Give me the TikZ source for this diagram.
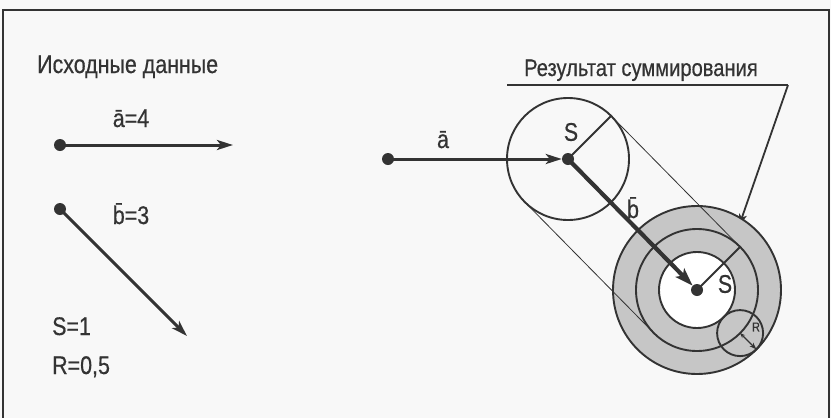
\documentclass[tikz,border=0pt]{standalone}
\usepackage{fontspec}
\setmainfont{Liberation Sans}[FakeStretch=0.84,FakeBold=0.5]
\usetikzlibrary{arrows.meta,calc}
\definecolor{ink}{HTML}{333333}
\definecolor{ringgray}{HTML}{C6C6C6}
\definecolor{bg}{HTML}{F8F8F8}
\tikzset{
  txt/.style={inner sep=0pt, text=ink, font=\fontsize{25.5}{28}\selectfont},
  vec/.style={draw=ink, line width=3pt, -{Stealth[length=16pt,width=10pt,inset=4pt]}},
  vecthick/.style={draw=ink, line width=4.2pt, -{Stealth[length=18pt,width=12pt,inset=4pt]}},
  dotc/.style={circle, fill=ink, inner sep=0pt, minimum size=12pt},
  thin/.style={draw=ink, line width=0.8pt},
  circ/.style={draw=ink, line width=1.9pt},
}
\begin{document}
\begin{tikzpicture}[x=1pt,y=-1pt]
\useasboundingbox (0,0) rectangle (831,418);
\fill[bg] (0,0) rectangle (831,418);
% frame
\draw[ink, line width=2pt] (3,418) -- (3,10) -- (829,10) -- (829,418);

% ---- left part
\node[txt, anchor=base west] (t1) at (37,73) {Исходные данные};
\node[dotc] (la0) at (60,145) {};
\coordinate (la1) at (233,145);
\draw[vec] (la0.center) -- (la1);
\node[txt, anchor=base] (lal) at (131,127) {\=a=4};
\node[dotc] (lb0) at (60,209) {};
\coordinate (lb1) at (187,336);
\draw[vec] (lb0.center) -- (lb1);
\node[txt, anchor=base] (lbl) at (131,224) {\=b=3};
\node[txt, anchor=base west] (s1) at (52,335) {S=1};
\node[txt, anchor=base west] (r1) at (52,374) {R=0,5};

% ---- right part
\node[txt, anchor=base, font=\fontsize{24}{27}\selectfont] (t2) at (641,76) {Результат суммирования};
\coordinate (u0) at (507,85);
\coordinate (u1) at (788,85);
\coordinate (ctip) at (739,226);
\draw[ink, line width=1.8pt] (u0) -- (u1);
\draw[ink, line width=1.8pt, -{Stealth[length=12pt,width=8pt,inset=3pt]}] (u1) -- (ctip);

% big circle (rings)
\coordinate (C) at (697,290);
\fill[ringgray] (C) circle[radius=84];
\fill[white] (C) circle[radius=38];
\draw[circ] (C) circle[radius=84];
\draw[circ] (C) circle[radius=61];
\draw[circ] (C) circle[radius=38];

% small circle
\coordinate (A) at (568,159);
\draw[circ] (A) circle[radius=61];

% tangent lines and radii
\coordinate (p1) at ($(A)+(43.1,-43.1)$);
\coordinate (p2) at ($(A)+(-43.1,43.1)$);
\coordinate (q1) at ($(C)+(43.1,-43.1)$);
\coordinate (q2) at ($(C)+(-43.1,43.1)$);
\draw[thin] (p1) -- (q1);
\draw[thin] (p2) -- (q2);
\draw[ink, line width=1.8pt] (A) -- (p1);
\draw[ink, line width=1.8pt] (C) -- (q1);
\node[txt, anchor=center] (sA) at (571,132) {S};
\node[txt, anchor=center] (sC) at (725,284) {S};

% R circle
\coordinate (Rc) at ($(C)+(43.1,43.1)$);
\draw[circ] (Rc) circle[radius=23];
\coordinate (Re) at ($(Rc)+(16.3,16.3)$);
\draw[ink, line width=1.2pt, {Stealth[length=5pt,width=4pt]}-{Stealth[length=7pt,width=5pt]}] (Rc) -- (Re);
\node[inner sep=0pt, text=ink, font=\fontsize{13}{15}\selectfont] (rl) at (756,327) {R};

% vectors
\node[dotc] (ra0) at (388,159) {};
\node[dotc] (ra1) at (568,159) {};
\draw[vec] (ra0.center) -- (ra1.west);
\node[txt, anchor=base] (ral) at (443,148) {\=a};
\node[dotc] (rb1) at (697,290) {};
\draw[vecthick] (ra1.center) -- (rb1.north west);
\node[txt, anchor=base] (rbl) at (633,218) {\=b};
\end{tikzpicture}
\end{document}
